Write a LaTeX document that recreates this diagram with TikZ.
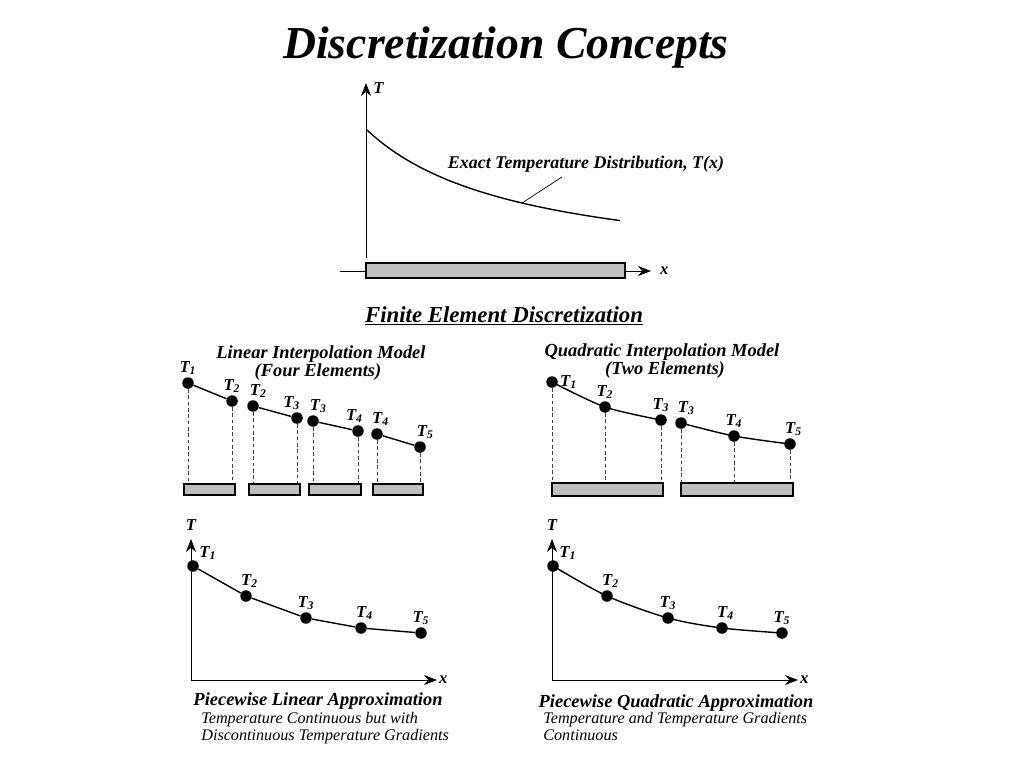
\documentclass[tikz,border=0pt]{standalone}
\usepackage{fontspec}
\setmainfont{Liberation Serif}
\usetikzlibrary{arrows.meta,calc}
\newcommand{\Tn}[1]{T\textsubscript{#1}}

\begin{document}
\begin{tikzpicture}[x=0.02cm,y=-0.02cm,
    dot/.style={circle,fill,inner sep=0pt,minimum size=0.23cm},
    lab/.style={font=\fontsize{9.5}{10}\selectfont\bfseries\itshape,inner sep=1pt},
    ttl/.style={font=\fontsize{10.5}{12}\selectfont\bfseries\itshape,anchor=base,inner sep=0pt},
    note/.style={font=\fontsize{9.2}{10}\selectfont\itshape,anchor=base west,inner sep=0pt},
    bar/.style={draw,fill=gray!50,line width=0.6pt},
    ax/.style={line width=0.5pt,-{Stealth[length=0.26cm,width=0.2cm]}},
    drop/.style={draw=black!75,dash pattern=on 2pt off 1.6pt,line width=0.35pt},
    crv/.style={line width=0.8pt}]
  \useasboundingbox (0,0) rectangle (1024,768);
  \node[font=\fontsize{26}{30}\selectfont\bfseries\itshape,anchor=base,inner sep=0pt] (title) at (506,58) {Discretization Concepts};
  \begin{scope}
    % exact distribution over the bar
    \coordinate (tb) at (366,258);
    \coordinate (tt) at (366,83);
    \coordinate (xl) at (340,271);
    \coordinate (xr) at (651,271);
    \draw[ax] (tb) -- (tt) node[lab,anchor=west,xshift=3pt,yshift=-3pt] {T};
    \draw[ax] (xl) -- (xr) node[lab,anchor=west,xshift=4pt] {x};
    \draw[bar] (366,263) rectangle (625,278);
    \draw[crv] plot[domain=0:253,samples=60] ({367+\x},{130+146.3*(\x/(\x+155.7))});
    \coordinate (ex) at (522,203);
    \coordinate (lt) at (562,177);
    \node[lab,anchor=base,inner sep=0pt,font=\fontsize{10.2}{12}\selectfont\bfseries\itshape] (exlab) at (586,168) {Exact Temperature Distribution, T(x)};
    \draw[line width=0.4pt] (ex) -- (lt);
    \node[font=\fontsize{13}{15}\selectfont\bfseries\itshape,anchor=base,inner sep=0pt] (fed) at (504,322) {\underline{Finite Element Discretization}};
  \end{scope}
  \begin{scope}
    % linear model, four elements
    \node[ttl] (lint) at (321,358) {Linear Interpolation Model};
    \node[ttl] (linf) at (318,376) {(Four Elements)};
    \foreach \e/\xa/\ya/\xb/\yb/\na/\nb/\sa/\sb in {1/188/383/232/401/1/2/0/0,2/253/406/297/418/2/3/3/-3,3/313/421/358/431/3/4/3/-2,4/377/434/420/447/4/5/2/3}{
      \node[dot,label={[lab,xshift=\sa pt]above:\Tn{\na}}] (la\e) at (\xa,\ya) {};
      \node[dot,label={[lab,xshift=\sb pt]above:\Tn{\nb}}] (lb\e) at (\xb,\yb) {};
      \draw[crv] (la\e) -- (lb\e);
      \draw[drop] (la\e) -- (\xa,484);
      \draw[drop] (lb\e) -- (\xb,484);
      \draw[bar] (\xa-4,484) rectangle (\xb+3,495);
    }
  \end{scope}
  \begin{scope}
    % quadratic model, two elements
    \node[ttl] (qint) at (662,356) {Quadratic Interpolation Model};
    \node[ttl] (qinf) at (665,374) {(Two Elements)};
    \node[dot,label={[lab]right:\Tn{1}}] (q1) at (552,382) {};
    \node[dot,label={[lab]above:\Tn{2}}] (q2) at (605,407) {};
    \node[dot,label={[lab]above:\Tn{3}}] (q3) at (661,420) {};
    \node[dot,label={[lab,xshift=3pt]above:\Tn{3}}] (q4) at (681,423) {};
    \node[dot,label={[lab]above:\Tn{4}}] (q5) at (734,436) {};
    \node[dot,label={[lab,xshift=2pt]above:\Tn{5}}] (q6) at (790,444) {};
    \draw[crv] plot[smooth] coordinates {(q1.center) (q2.center) (q3.center)};
    \draw[crv] plot[smooth] coordinates {(q4.center) (q5.center) (q6.center)};
    \foreach \n/\x in {1/552,2/605,3/661,4/681,5/734,6/790}
      \draw[drop] (q\n) -- (\x,483);
    \draw[bar] (552,483) rectangle (663,496);
    \draw[bar] (681,483) rectangle (793,496);
  \end{scope}
  \begin{scope}
    % piecewise linear approximation
    \coordinate (po) at (191,680);
    \coordinate (pt) at (191,539);
    \coordinate (px) at (437,680);
    \draw[ax] (po) -- (pt);
    \draw[ax] (po) -- (px) node[lab,anchor=west] {x};
    \node[lab] (pT) at (191,525) {T};
    \node[dot,label={[lab]above right:\Tn{1}}] (p1) at (193,566) {};
    \node[dot,label={[lab,xshift=2pt]above:\Tn{2}}] (p2) at (246,596) {};
    \node[dot,label={[lab]above:\Tn{3}}] (p3) at (306,618) {};
    \node[dot,label={[lab,xshift=2pt]above:\Tn{4}}] (p4) at (361,628) {};
    \node[dot,label={[lab]above:\Tn{5}}] (p5) at (421,633) {};
    \draw[crv] (p1) -- (p2) -- (p3) -- (p4) -- (p5);
    \node[ttl] (plin) at (318,705) {Piecewise Linear Approximation};
    \node[note] (pn1) at (201,723) {Temperature Continuous but with};
    \node[note] (pn2) at (201,740) {Discontinuous Temperature Gradients};
  \end{scope}
  \begin{scope}
    % piecewise quadratic approximation
    \coordinate (ro) at (552,680);
    \coordinate (rt) at (552,539);
    \coordinate (rx) at (798,680);
    \draw[ax] (ro) -- (rt);
    \draw[ax] (ro) -- (rx) node[lab,anchor=west] {x};
    \node[lab] (rT) at (552,525) {T};
    \node[dot,label={[lab]above right:\Tn{1}}] (r1) at (553,566) {};
    \node[dot,label={[lab,xshift=2pt]above:\Tn{2}}] (r2) at (607,596) {};
    \node[dot,label={[lab]above:\Tn{3}}] (r3) at (668,618) {};
    \node[dot,label={[lab,xshift=2pt]above:\Tn{4}}] (r4) at (722,628) {};
    \node[dot,label={[lab]above:\Tn{5}}] (r5) at (782,633) {};
    \draw[crv] plot[smooth] coordinates {(r1.center) (r2.center) (r3.center) (r4.center) (r5.center)};
    \node[ttl] (pquad) at (676,707) {Piecewise Quadratic Approximation};
    \node[note] (rn1) at (543,723) {Temperature and Temperature Gradients};
    \node[note] (rn2) at (543,740) {Continuous};
  \end{scope}
\end{tikzpicture}
\end{document}
